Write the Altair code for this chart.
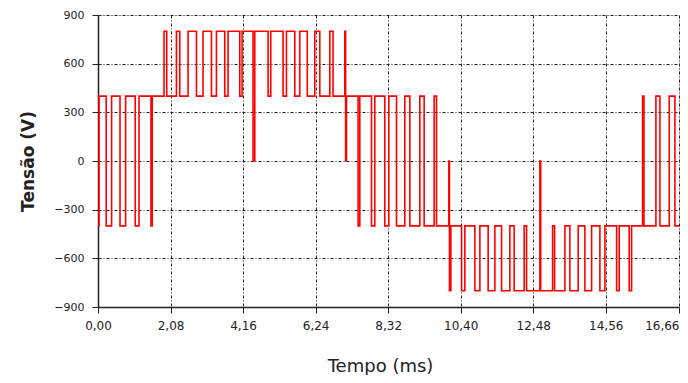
import altair as alt
import pandas as pd

# switching instants (ms) and the voltage level held from each instant on
times = [0.00, 0.03, 0.235, 0.390, 0.631, 0.792, 1.067, 1.176, 1.520, 1.555,
         1.893, 1.971, 2.249, 2.344, 2.582, 2.823, 3.012, 3.253, 3.396, 3.635,
         3.729, 4.065, 4.131, 4.446, 4.495, 4.877, 4.954, 5.307, 5.404, 5.643,
         5.786, 6.001, 6.216, 6.360, 6.647, 6.741, 7.077, 7.100, 7.126, 7.458,
         7.507, 7.843, 7.937, 8.224, 8.339, 8.560, 8.798, 8.942, 9.228, 9.352,
         9.639, 9.707, 10.060, 10.078, 10.118, 10.425, 10.519, 10.806, 10.950, 11.188,
         11.380, 11.572, 11.810, 11.933, 12.220, 12.289, 12.671, 12.694, 13.035, 13.092,
         13.388, 13.531, 13.769, 13.961, 14.154, 14.392, 14.535, 14.871, 14.946, 15.232,
         15.301, 15.617, 15.654, 15.998, 16.113, 16.380, 16.543, 16.66]
volts = [-400, 400, -400, 400, -400, 400, -400, 400, -400, 400,
         800, 400, 800, 400, 800, 400, 800, 400, 800, 400,
         800, 400, 800, 0, 800, 400, 800, 400, 800, 400,
         800, 400, 800, 400, 800, 400, 800, 0, 400, -400,
         400, -400, 400, -400, 400, -400, 400, -400, 400, -400,
         400, -400, 0, -800, -400, -800, -400, -800, -400, -800,
         -400, -800, -400, -800, -400, -800, 0, -800, -400, -800,
         -400, -800, -400, -800, -400, -800, -400, -800, -400, -800,
         -400, 400, -400, 400, -400, 400, -400, -400]

x_ticks = [0.00, 2.08, 4.16, 6.24, 8.32, 10.40, 12.48, 14.56, 16.66]
y_ticks = [-900, -600, -300, 0, 300, 600, 900]

df = pd.DataFrame({"t": times, "v": volts})

label_font = "DejaVu Sans"

chart = alt.Chart(df).mark_line(
    interpolate="step-after", color="#ff0000", strokeWidth=1.6
).encode(
    x=alt.X("t:Q",
            scale=alt.Scale(domain=[0, 16.66], nice=False, zero=False),
            axis=alt.Axis(values=x_ticks,
                          labelExpr="replace(format(datum.value, '.2f'), '.', ',')",
                          labelAlign=alt.ExprRef(expr="datum.value > 16 ? 'right' : 'center'"),
                          title="Tempo (ms)",
                          titleFontSize=18, titleFontWeight="normal",
                          titleFont=label_font, titleColor="#222",
                          titleX=282, titleY=59, titleBaseline="middle",
                          labelFontSize=12, labelFont=label_font, labelColor="#222",
                          labelPadding=7, tickSize=6, tickColor="#222",
                          domainColor="#222", domainWidth=1.5,
                          grid=True, gridColor="#222", gridDash=[3, 2, 1, 2],
                          gridWidth=1, labelFlush=False)),
    y=alt.Y("v:Q",
            scale=alt.Scale(domain=[-900, 900], nice=False),
            axis=alt.Axis(values=y_ticks,
                          title="Tensão (V)",
                          titleFontSize=17, titleFontWeight="bold",
                          titleFont=label_font, titleColor="#222",
                          titleX=-70, titleY=146, titleBaseline="middle",
                          titleAlign="center",
                          labelFontSize=11, labelFont=label_font, labelColor="#222",
                          labelPadding=8, tickSize=6, tickColor="#222",
                          domainColor="#222", domainWidth=1.5,
                          grid=True, gridColor="#222", gridDash=[3, 2, 1, 2],
                          gridWidth=1)),
).properties(
    width=581, height=292,
    padding={"left": 90, "top": 7, "right": 1, "bottom": 68},
    autosize=alt.AutoSizeParams(type="none"),
).configure_view(
    stroke="#444", strokeWidth=1.5
).configure(background="white")

chart.save("out.html", embed_options={"renderer": "svg", "actions": False})
